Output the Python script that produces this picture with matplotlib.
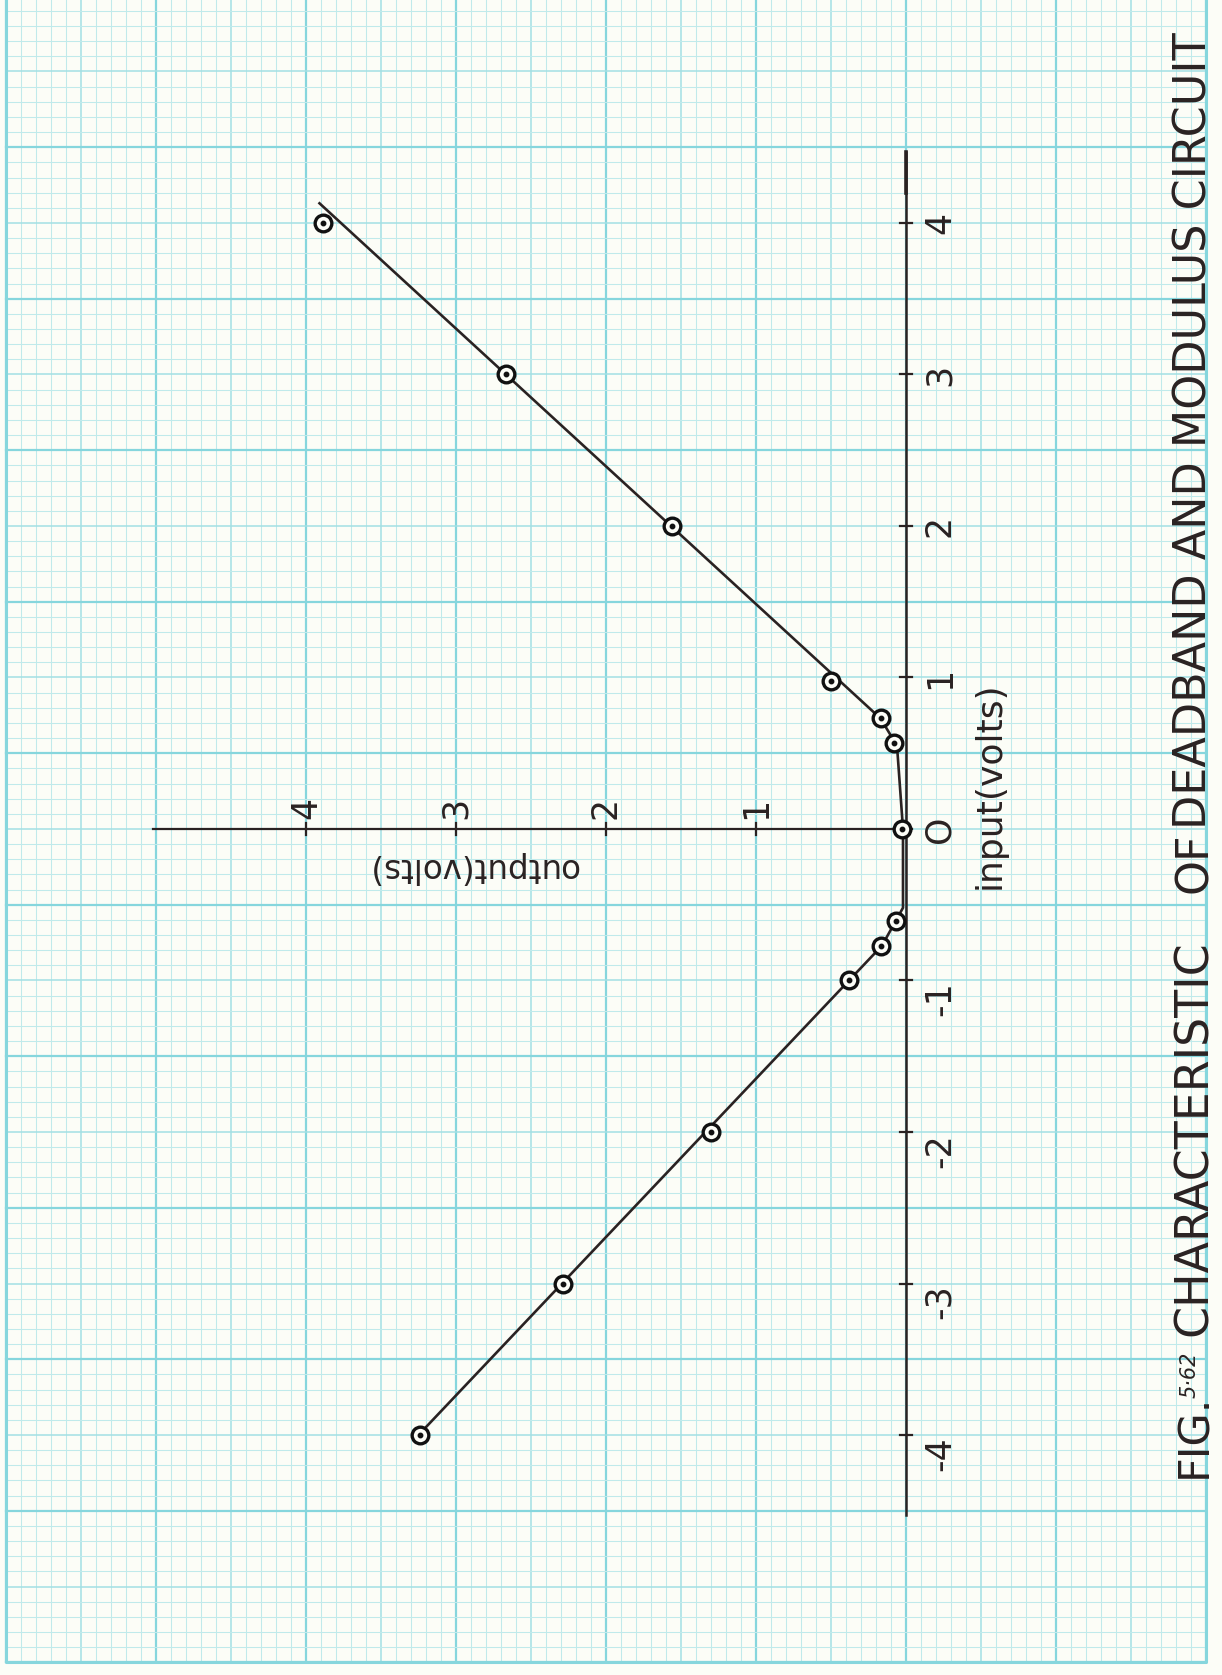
import numpy as np
import matplotlib
matplotlib.use("Agg")
import matplotlib.pyplot as plt

# measured points: input volts (vertical on the sheet) vs output volts
point_input = [4.0, 3.0, 2.0, 0.98, 0.73, 0.57, 0.0, -0.61, -0.77, -1.0, -2.0, -3.0, -4.0]
point_output = [3.89, 2.67, 1.56, 0.50, 0.17, 0.08, 0.03, 0.07, 0.17, 0.38, 1.30, 2.29, 3.24]

# hand drawn characteristic
line_input = [4.13, 0.73, 0.55, 0.0, -0.52, -0.77, -4.0]
line_output = [3.91, 0.17, 0.06, 0.02, 0.02, 0.16, 3.25]

input_ticks = [-4, -3, -2, -1, 0, 1, 2, 3, 4]
input_labels = ["-4", "-3", "-2", "-1", "O", "1", "2", "3", "4"]
output_ticks = [1, 2, 3, 4]
output_labels = ["1", "2", "3", "4"]

W, H = 1222, 1675
X0, Y0 = 906, 829        # pixel position of the origin
SX, SY = 150.0, 151.5    # pixels per volt


def dx(px):
    return (X0 - px) / SX


def dy(py):
    return (Y0 - py) / SY


PAPER = "#fcfdf7"
MINOR = "#c0eaeb"
HALF = "#a3e0e4"
MAJOR = "#86d6dd"
INK = "#2a2222"

fig = plt.figure(figsize=(W / 100, H / 100), dpi=100, facecolor=PAPER)
ax = fig.add_axes([0, 0, 1, 1])
ax.set_facecolor(PAPER)
ax.set_xlim(dx(0), dx(W))
ax.set_ylim(dy(H), dy(0))
ax.axis("off")

# graph paper
gx0, gx1 = -2.0, 6.0
gy0, gy1 = -5.5, dy(0) + 0.1
for v in np.round(np.arange(gx0, gx1 + 0.001, 0.1), 2):
    if abs(v - round(v)) < 1e-6:
        c, lw = MAJOR, 1.6
    elif abs(v * 2 - round(v * 2)) < 1e-6:
        c, lw = HALF, 1.1
    else:
        c, lw = MINOR, 0.75
    ax.plot([v, v], [gy0, gy1], color=c, lw=lw, zorder=1)
for v in np.round(np.arange(gy0, gy1, 0.1), 2):
    if abs(v - 0.5 - round(v - 0.5)) < 1e-6:
        c, lw = MAJOR, 1.6
    elif abs(v - round(v)) < 1e-6:
        c, lw = HALF, 1.1
    else:
        c, lw = MINOR, 0.75
    ax.plot([gx0, gx1], [v, v], color=c, lw=lw, zorder=1)
ax.plot([gx1, gx1, gx0, gx0], [gy1, gy0, gy0, gy1], color=MAJOR, lw=2.2, zorder=1)

# axes drawn on the sheet
ax.plot([0, 0], [-4.53, 4.47], color=INK, lw=1.8, zorder=3)
ax.plot([0, 0], [4.2, 4.47], color=INK, lw=2.6, zorder=3)
ax.plot([0, 5.02], [0, 0], color=INK, lw=1.6, zorder=3)
for t in input_ticks:
    ax.plot([-0.04, 0.04], [t, t], color=INK, lw=1.6, zorder=3)
for t in output_ticks:
    ax.plot([t, t], [-0.04, 0.04], color=INK, lw=1.6, zorder=3)

for t, lab in zip(input_ticks, input_labels):
    off = -0.12 if lab.startswith("-") else 0.0
    ax.text(dx(940), t + off, lab, rotation=90, rotation_mode="anchor",
            ha="center", va="center", fontsize=25, color=INK, zorder=4)
for t, lab in zip(output_ticks, output_labels):
    ax.text(t, dy(808), lab, rotation=90, rotation_mode="anchor",
            ha="center", va="center", fontsize=25, color=INK, zorder=4)

ax.text(dx(990), dy(785), "input(volts)", rotation=90, rotation_mode="anchor",
        ha="center", va="center", fontsize=26, color=INK, zorder=4)
ax.text(dx(473), dy(868), "output(volts)", rotation=180, rotation_mode="anchor",
        ha="center", va="center", fontsize=23.5, color=INK, zorder=4)

# characteristic and measured points
ax.plot(line_output, line_input, color=INK, lw=1.9, zorder=5)
ax.plot(point_output, point_input, ls="none", marker="o", ms=12, mfc=PAPER,
        mec="#111111", mew=2.4, zorder=6)
ax.plot(point_output, point_input, ls="none", marker="o", ms=3.2,
        color="#111111", zorder=7)

# caption along the right edge
tx = dx(1194)
ax.text(tx, dy(1478), "FIG.", rotation=90, rotation_mode="anchor",
        ha="left", va="center", fontsize=31, color=INK)
ax.text(dx(1190), dy(1398), "5·62", rotation=90, rotation_mode="anchor",
        ha="left", va="center", fontsize=15, style="italic", color=INK)
ax.text(tx, dy(1336), "CHARACTERISTIC", rotation=90, rotation_mode="anchor",
        ha="left", va="center", fontsize=33, color=INK)
ax.text(tx, dy(893), "OF", rotation=90, rotation_mode="anchor",
        ha="left", va="center", fontsize=32, color=INK)
ax.text(tx, dy(829), "DEADBAND AND MODULUS CIRCUIT", rotation=90,
        rotation_mode="anchor", ha="left", va="center", fontsize=32, color=INK)

fig.savefig("out.png", dpi=100, facecolor=PAPER)
